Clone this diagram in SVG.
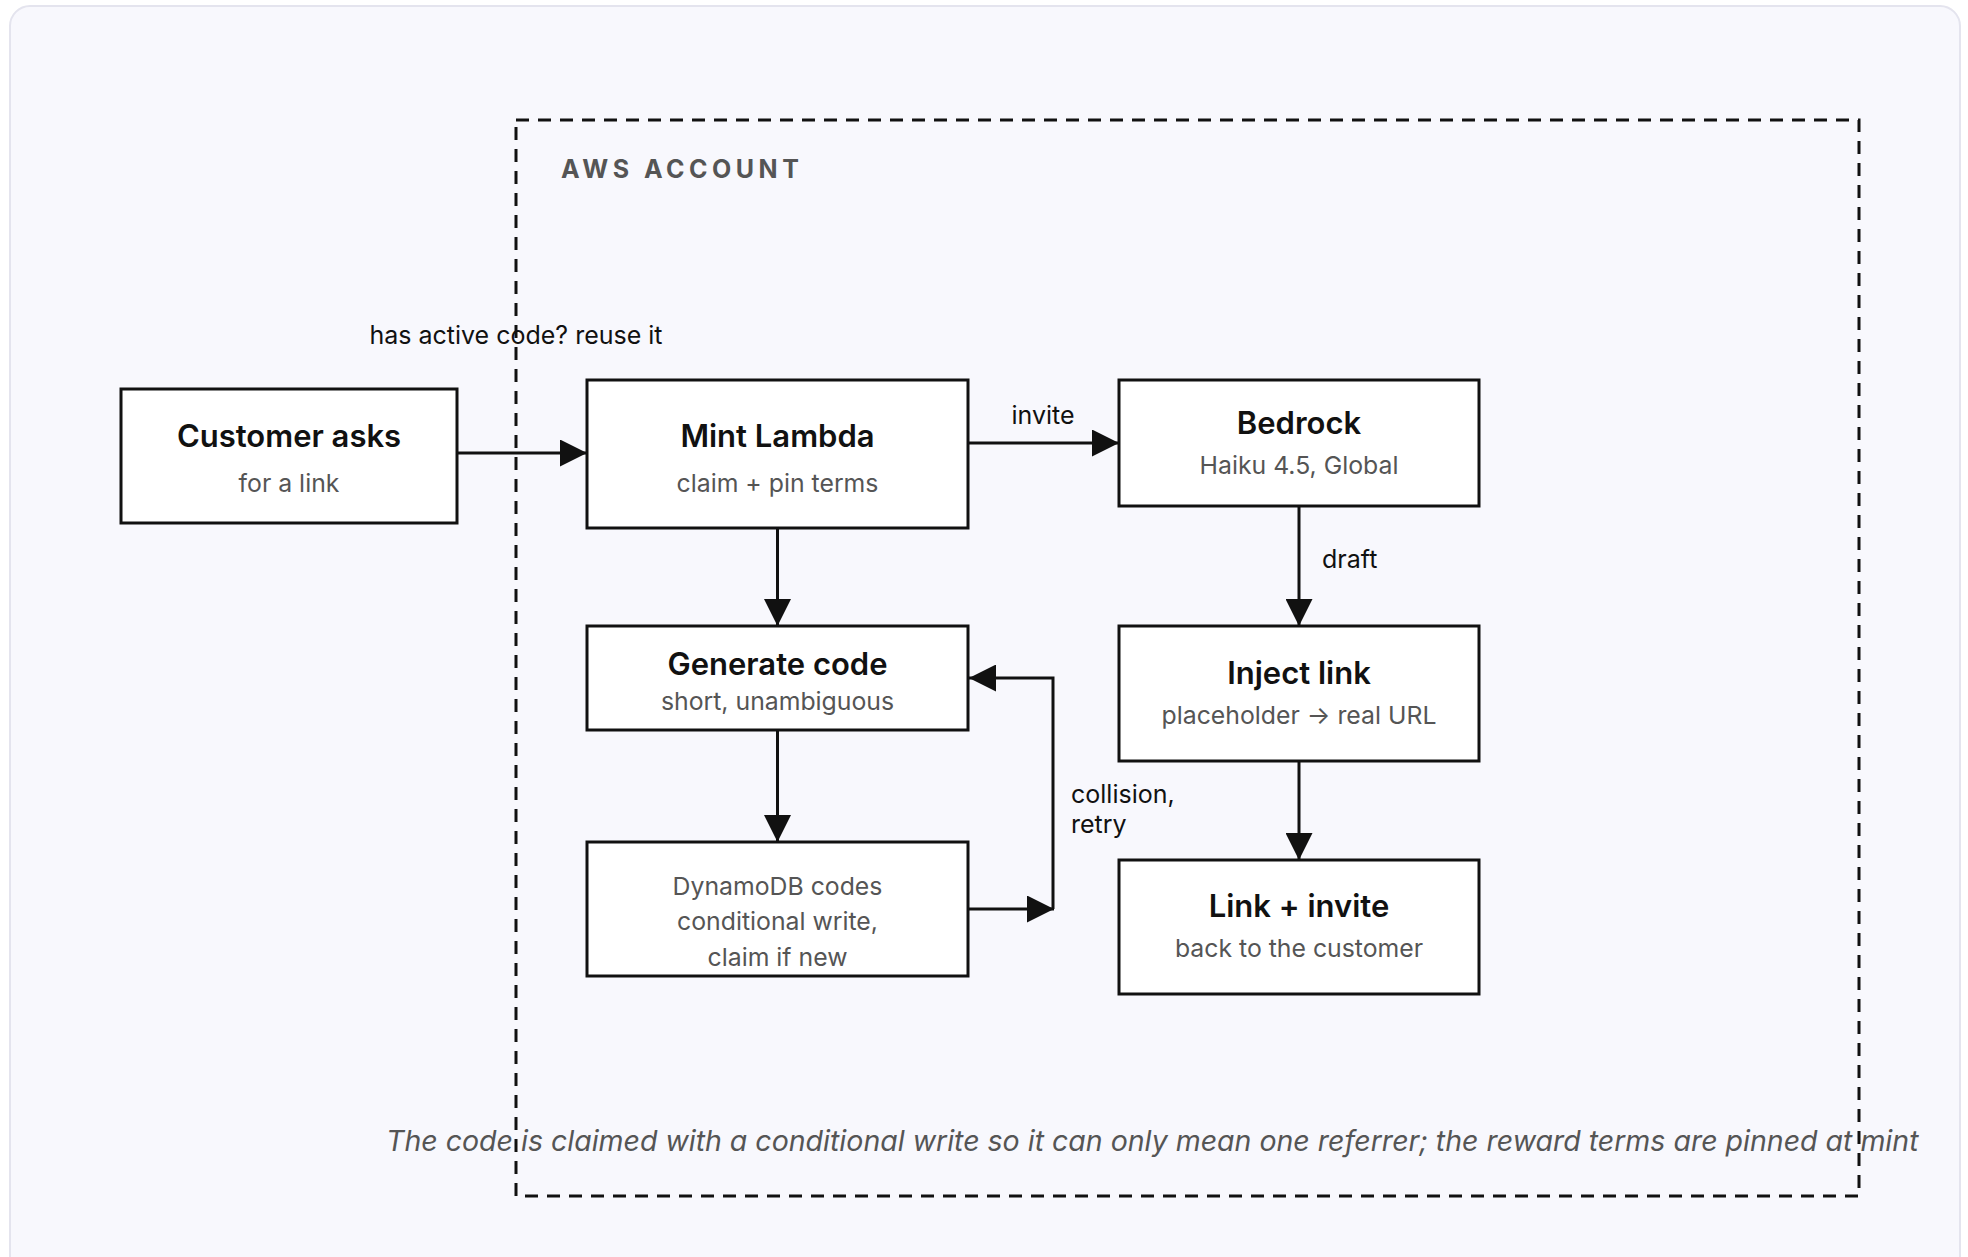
<svg xmlns="http://www.w3.org/2000/svg" width="1968" height="1257" viewBox="0 0 1968 1257">
<style>
.node rect{fill:#ffffff;stroke:#111111;stroke-width:3}
.t{font-family:Inter,"Liberation Sans",sans-serif;font-weight:600;font-size:31px;fill:#111111;text-anchor:middle}
.s{font-family:Inter,"Liberation Sans",sans-serif;font-weight:400;font-size:24.8px;fill:#555555;text-anchor:middle}
.lbl{font-family:Inter,"Liberation Sans",sans-serif;font-weight:400;font-size:25px;fill:#111111}
.edge{fill:none;stroke:#111111;stroke-width:3}
</style>
<defs>
<marker id="ah" viewBox="0 0 27 27" refX="27" refY="13.5" markerWidth="27" markerHeight="27" markerUnits="userSpaceOnUse" orient="auto">
<path d="M0,0 L27,13.5 L0,27 Z" fill="#111111"/>
</marker>
</defs>
<rect x="0" y="0" width="1968" height="1257" fill="#ffffff"/>
<rect x="10" y="6" width="1950" height="1280" rx="20" fill="#f8f8fd" stroke="#e4e4ee" stroke-width="2"/>
<g id="aws-account">
<rect x="516" y="120" width="1343" height="1076" fill="none" stroke="#111111" stroke-width="3" stroke-dasharray="13 9"/>
<text x="561" y="178" font-family="Inter,'Liberation Sans',sans-serif" font-weight="700" font-size="25" letter-spacing="4.5" fill="#555555">AWS ACCOUNT</text>
</g>
<g id="connectors">
<path class="edge" d="M457,453 H587" marker-end="url(#ah)"/>
<text class="lbl" x="516" y="344" text-anchor="middle">has active code? reuse it</text>
<path class="edge" d="M968,443 H1119" marker-end="url(#ah)"/>
<text class="lbl" x="1043" y="424" text-anchor="middle">invite</text>
<path class="edge" d="M777.5,528 V626" marker-end="url(#ah)"/>
<path class="edge" d="M777.5,730 V842" marker-end="url(#ah)"/>
<path class="edge" d="M968,909 H1054" marker-end="url(#ah)"/>
<path class="edge" d="M1053,909 V678 H969" marker-end="url(#ah)"/>
<text class="lbl" x="1071" y="803">collision,</text>
<text class="lbl" x="1071" y="833">retry</text>
<path class="edge" d="M1299,506 V626" marker-end="url(#ah)"/>
<text class="lbl" x="1322" y="568">draft</text>
<path class="edge" d="M1299,761 V860" marker-end="url(#ah)"/>
</g>
<g id="customer" class="node">
<rect x="121" y="389" width="336" height="134"/>
<text class="t" x="289" y="447">Customer asks</text>
<text class="s" x="289" y="492">for a link</text>
</g>
<g id="mint" class="node">
<rect x="587" y="380" width="381" height="148"/>
<text class="t" x="777.5" y="447">Mint Lambda</text>
<text class="s" x="777.5" y="492">claim + pin terms</text>
</g>
<g id="bedrock" class="node">
<rect x="1119" y="380" width="360" height="126"/>
<text class="t" x="1299" y="434">Bedrock</text>
<text class="s" x="1299" y="474">Haiku 4.5, Global</text>
</g>
<g id="generate" class="node">
<rect x="587" y="626" width="381" height="104"/>
<text class="t" x="777.5" y="675">Generate code</text>
<text class="s" x="777.5" y="710">short, unambiguous</text>
</g>
<g id="dynamodb" class="node">
<rect x="587" y="842" width="381" height="134"/>
<text class="s" x="777.5" y="895">DynamoDB codes</text>
<text class="s" x="777.5" y="930">conditional write,</text>
<text class="s" x="777.5" y="966">claim if new</text>
</g>
<g id="inject" class="node">
<rect x="1119" y="626" width="360" height="135"/>
<text class="t" x="1299" y="684">Inject link</text>
<text class="s" x="1299" y="724">placeholder → real URL</text>
</g>
<g id="link-invite" class="node">
<rect x="1119" y="860" width="360" height="134"/>
<text class="t" x="1299" y="917">Link + invite</text>
<text class="s" x="1299" y="957">back to the customer</text>
</g>
<text x="386" y="1151" font-family="Inter,'Liberation Sans',sans-serif" font-style="italic" font-size="28.5" fill="#555555">The code is claimed with a conditional write so it can only mean one referrer; the reward terms are pinned at mint</text>
</svg>
